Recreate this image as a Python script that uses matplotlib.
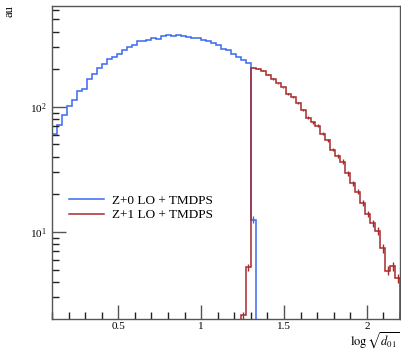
import numpy as np
import matplotlib
matplotlib.use("Agg")
import matplotlib.pyplot as plt
from matplotlib.ticker import MultipleLocator, LogLocator, NullFormatter

plt.rcParams['font.family'] = ['Liberation Serif', 'DejaVu Serif']
plt.rcParams['mathtext.fontset'] = 'stix'

# bin edges: 0.1 .. 2.2 in steps of 0.03
edges = np.round(np.arange(0.1, 2.2001, 0.03), 4)

# Z+0 LO + TMDPS, bins 0..40 (0.10 .. 1.33)
blue_vals = [61, 71, 86, 101, 114, 133, 139, 166, 182, 204,
             218, 242, 252, 265, 286, 302, 310, 333, 339, 345,
             354, 350, 370, 372, 365, 374, 370, 363, 358, 354,
             341, 333, 323, 310, 289, 284, 264, 251, 236, 226,
             12.5]
blue_err = [0.0] * 40 + [0.8]

# Z+1 LO + TMDPS, bins 38..69 (1.24 .. 2.20)
red_vals = [2.15, 5.2, 206, 201, 194, 180, 167, 154, 143, 127,
            119, 108, 94.6, 82, 75, 70.5, 61, 54, 45.5, 40.5,
            36.5, 29.5, 24.5, 21, 17.1, 13.9, 11.7, 10.2, 7.4, 4.9,
            5.3, 4.26]
red_err = [0.15, 0.3, 2, 2, 2, 2, 2, 2, 2, 2,
           2, 2, 2, 2, 2, 2, 2, 1.5, 1.5, 1.5,
           1.5, 1.3, 1.2, 1.1, 0.9, 0.8, 0.7, 0.7, 0.6, 0.4,
           0.4, 0.35]

blue_edges = edges[0:len(blue_vals) + 1]
red_edges = edges[38:38 + len(red_vals) + 1]

blue_c = '#3b68f0'
red_c = '#a82a2a'

fig = plt.figure(figsize=(4.01, 3.51), dpi=100)
ax = fig.add_axes([52 / 401, 1 - 319 / 351, 348 / 401, 313 / 351])
ax.set_yscale('log')
ylo, yhi = 2.01, 640
ax.set_xlim(0.1, 2.2)
ax.set_ylim(ylo, yhi)

ax.stairs(blue_vals, blue_edges, baseline=1e-3, color=blue_c, lw=1.1,
          label='Z+0 LO + TMDPS')
ax.stairs(red_vals, red_edges, baseline=1e-3, color=red_c, lw=1.1,
          label='Z+1 LO + TMDPS')

bc = 0.5 * (blue_edges[:-1] + blue_edges[1:])
rc = 0.5 * (red_edges[:-1] + red_edges[1:])
bm = np.array(blue_err) > 0
ax.errorbar(bc[bm], np.array(blue_vals)[bm], yerr=np.array(blue_err)[bm],
            fmt='none', ecolor=blue_c, elinewidth=1.0)
ax.errorbar(rc, red_vals, yerr=red_err, fmt='none', ecolor=red_c, elinewidth=1.0)

for s in ax.spines.values():
    s.set_color('#555555')
    s.set_linewidth(1.0)

ax.xaxis.set_minor_locator(MultipleLocator(0.1))
ax.set_xticks([0.5, 1, 1.5, 2])
ax.set_xticklabels(['0.5', '1', '1.5', '2'])
ax.yaxis.set_major_locator(LogLocator(base=10))
ax.yaxis.set_minor_locator(LogLocator(base=10, subs=np.arange(2, 10)))
ax.yaxis.set_minor_formatter(NullFormatter())
ax.tick_params(which='major', direction='in', length=10, width=1, color='#555555',
               labelsize=8, top=False, right=False, pad=4)
ax.tick_params(axis='x', which='major', pad=2.5)
ax.tick_params(which='minor', direction='in', length=5, width=1, color='#222222',
               top=False, right=False)

fig.text(0.998, 0.0, r'$\log\sqrt{d_{01}}$', fontsize=9,
         ha='right', va='bottom')
fig.text(0.008, 0.985, 'au', fontsize=9, rotation=90, ha='left', va='top')

leg = ax.legend(loc='upper left', bbox_to_anchor=(0.035, 0.415), frameon=False,
                fontsize=9.5, handlelength=2.6, handletextpad=0.6,
                labelspacing=0.2, borderaxespad=0)

fig.savefig('out.png', dpi=100)
